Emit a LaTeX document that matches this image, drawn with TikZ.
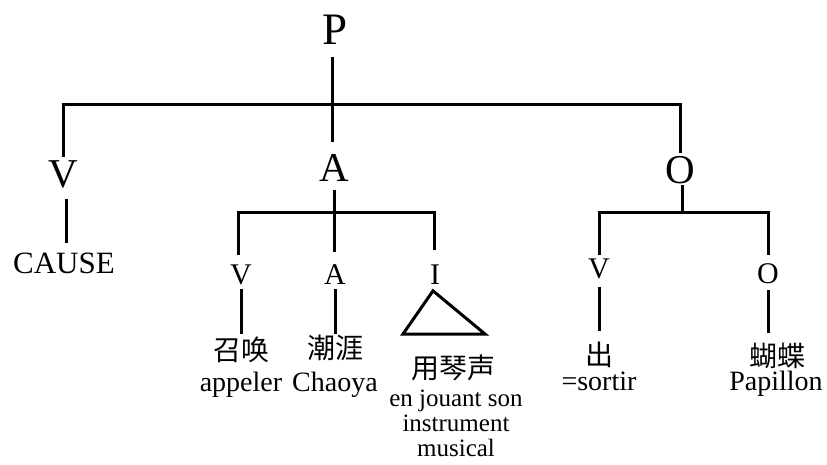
\documentclass[tikz,border=0pt]{standalone}
\usepackage{fontspec}
\setmainfont{Liberation Serif}
\newfontfamily\cjk{Noto Sans CJK SC}
\usetikzlibrary{calc}
\begin{document}
\begin{tikzpicture}[x=1pt,y=-1pt,line width=3pt,
 every node/.style={inner sep=0pt,outer sep=0pt},
 top/.style={font=\fontsize{45}{45}\selectfont},
 big/.style={font=\fontsize{41}{41}\selectfont},
 mid/.style={font=\fontsize{30}{30}\selectfont},
 word/.style={font=\fontsize{28}{28}\selectfont,anchor=base},
 han/.style={font=\cjk\fontsize{28}{28}\selectfont},
 gloss/.style={font=\fontsize{25}{25}\selectfont,align=center,anchor=north}]
\useasboundingbox (0,0) rectangle (827,464);
% nodes
\node[top] (P) at (335,30) {P};
\node[big] (V) at (63,174) {V};
\node[big] (A) at (334,168) {A};
\node[big] (O) at (680,170) {O};
\node[font=\fontsize{31}{31}\selectfont] (cause) at (64,263) {CAUSE};
\node[mid] (v1) at (241,275) {V};
\node[mid] (a1) at (335,275) {A};
\node[mid] (i1) at (435,275) {I};
\node[han] (zh) at (241,350) {召唤};
\node[word] (appeler) at (241,391) {appeler};
\node[han] (cy) at (335,348) {潮涯};
\node[word] (chaoya) at (335,391) {Chaoya};
\node[han] (yq) at (453,368) {用琴声};
\node[gloss] (jouant) at (456,390) {en jouant son\\instrument\\musical};
\node[mid] (v2) at (599,269) {V};
\node[mid] (o2) at (768,274) {O};
\node[han] (chu) at (599,355) {出};
\node[word] (sortir) at (599,390) {=sortir};
\node[han] (hd) at (777,356) {蝴蝶};
\node[word] (papillon) at (776,390) {Papillon};
% bar levels
\coordinate (b1) at (0,104);
\coordinate (b2) at (0,212);
\coordinate (b3) at (0,212);
% connectors, top level
\draw ($(P.south)+(-3,12)$) -- ($(A.north)+(-2,-12)$);
\draw ($(V.north)+(0,-3)$) -- (V.north |- b1) -- (O.north |- b1) -- ($(O.north)+(0,-3)$);
\draw ($(V.south)+(3,11)$) -- ($(cause.north)+(2,-10)$);
% A subtree
\draw ($(A.south)+(0,8)$) -- ($(A.south |- a1.north)+(0,-13)$);
\draw ($(v1.north)+(-3,-10)$) -- ($(v1.north |- b2)+(-3,0)$) -- ($(i1.north |- b2)+(-1,0)$) -- ($(i1.north)+(-1,-15)$);
\draw ($(v1.south)+(0,4)$) -- ($(zh.north)+(0,-3)$);
\draw ($(a1.south)+(0,4)$) -- ($(cy.north)+(0,-1)$);
\coordinate (tA) at ($(i1.south)+(-2,6)$);
\coordinate (tL) at (403,334);
\coordinate (tR) at (485,334);
\draw (tA) -- (tL) -- (tR) -- cycle;
% O subtree
\draw ($(O.south)+(2,1)$) -- ($(O.south |- b3)+(2,0)$);
\draw ($(v2.north)+(0,-4)$) -- (v2.north |- b3) -- (o2.north |- b3) -- ($(o2.north)+(0,-9)$);
\draw ($(v2.south)+(0,8)$) -- ($(chu.north)+(0,-11)$);
\draw ($(o2.south)+(0,6)$) -- ($(hd.north)+(-9,-10)$);
\end{tikzpicture}
\end{document}
